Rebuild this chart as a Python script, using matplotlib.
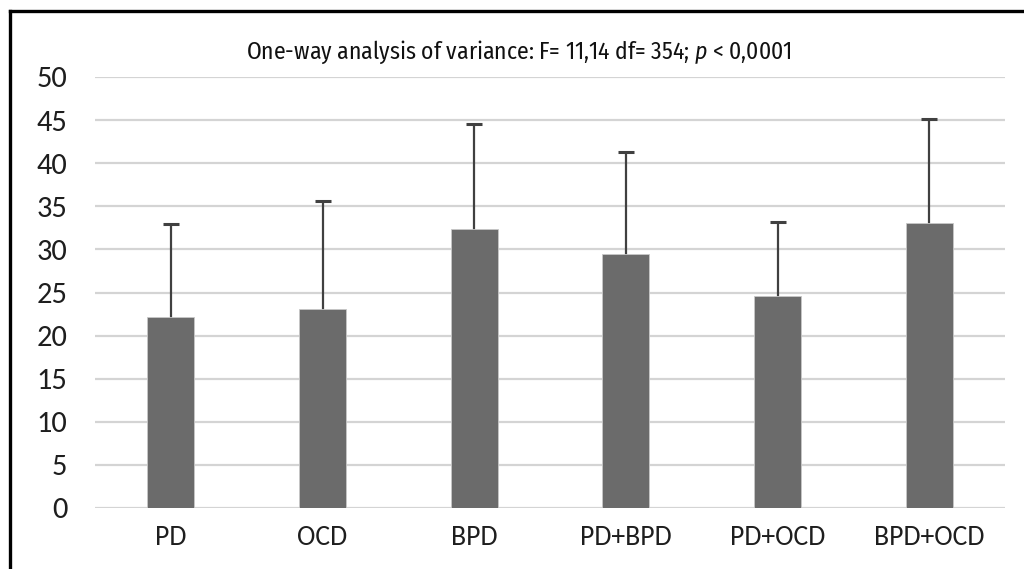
import matplotlib
matplotlib.use("Agg")
import matplotlib.pyplot as plt
from matplotlib.lines import Line2D
import numpy as np

categories = ["PD", "OCD", "BPD", "PD+BPD", "PD+OCD", "BPD+OCD"]
means = [22.2, 23.05, 32.4, 29.5, 24.6, 33.1]
sds = [10.8, 12.55, 12.1, 11.8, 8.6, 12.0]
yticks = [0, 5, 10, 15, 20, 25, 30, 35, 40, 45, 50]

plt.rcParams['font.family'] = ['Carlito', 'DejaVu Sans']
plt.rcParams['mathtext.fontset'] = 'custom'
plt.rcParams['mathtext.rm'] = 'Fira Sans Condensed'
plt.rcParams['mathtext.it'] = 'Fira Sans Condensed:italic'

W, H = 1024, 569
fig = plt.figure(figsize=(W / 100, H / 100), dpi=100)
ax = fig.add_axes([95 / W, 1 - 508 / H, (1005 - 95) / W, (508 - 77) / H])

x = np.arange(len(categories))
ax.bar(x, means, width=0.31, color="#6b6b6b", edgecolor="#c8c8c8", linewidth=0.6, zorder=3)
ax.errorbar(x, means, yerr=sds, fmt="none", ecolor="#404040",
            elinewidth=1.6, capsize=6, capthick=2.2, zorder=2)

ax.set_xlim(-0.5, len(categories) - 0.5)
ax.set_ylim(0, 50)
ax.set_yticks(yticks)
ax.set_xticks(x)
ax.set_xticklabels(categories, fontsize=20, color="#1e1e1e")
ax.set_yticklabels([str(t) for t in yticks], fontsize=22, color="#1e1e1e")
ax.tick_params(axis="y", length=0, pad=20)
ax.tick_params(axis="x", length=0, pad=12)
ax.yaxis.grid(True, color="#d4d4d4", linewidth=1.6, zorder=0)
ax.set_axisbelow(True)
for s in ax.spines.values():
    s.set_visible(False)

fig.text(519 / W, 1 - 52 / H, "One-way analysis of variance: F= 11,14 df= 354; $p$ < 0,0001",
         ha="center", va="center", fontsize=17, family=["Fira Sans Condensed", "DejaVu Sans"],
         color="#111111")

fig.add_artist(Line2D([10 / W, 1], [1 - 11 / H, 1 - 11 / H], transform=fig.transFigure,
                      color="black", linewidth=2.4))
fig.add_artist(Line2D([10 / W, 10 / W], [0, 1 - 11 / H], transform=fig.transFigure,
                      color="black", linewidth=2.4))

fig.savefig("out.png", dpi=100)
